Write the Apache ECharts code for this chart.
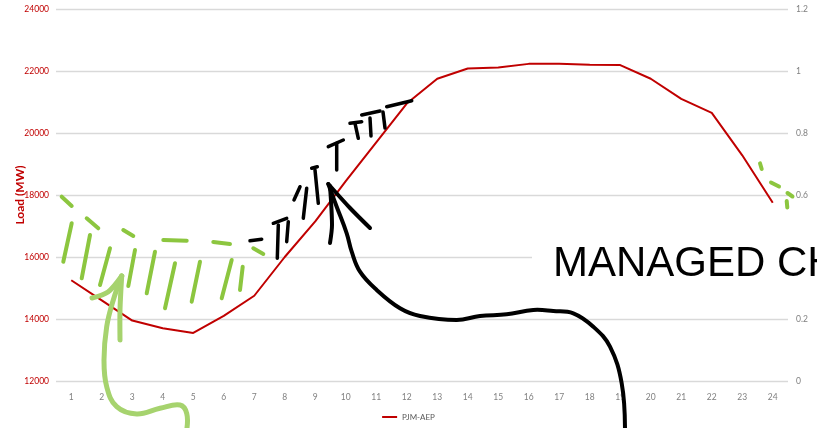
<!DOCTYPE html>
<html><head><meta charset="utf-8">
<script src="https://cdn.jsdelivr.net/npm/echarts@6/dist/echarts.min.js"></script>
<style>html,body{margin:0;padding:0;background:#fff}#c{width:817px;height:428px}</style>
</head><body><div id="c"></div>
<script>
const hours = ['1','2','3','4','5','6','7','8','9','10','11','12','13','14','15','16','17','18','19','20','21','22','23','24'];
const loadPJMAEP = [15250,14600,13950,13700,13550,14100,14750,16000,17150,18450,19700,20950,21750,22080,22110,22230,22230,22200,22190,21750,21100,20650,19280,17750];
const seriesName = 'PJM-AEP';
const annotationText = 'MANAGED CH';

const chart = echarts.init(document.getElementById('c'));
const F = 'Lato, "Liberation Sans", sans-serif';
const red = '#c00000';
const green = '#8cc63f';
const lightGreen = '#a6d36e';

function stroke(points, color, width, smooth) {
  return { type: 'polyline', z: 100, shape: { points: points, smooth: smooth || 0 },
    style: { stroke: color, lineWidth: width, fill: null, lineCap: 'round', lineJoin: 'round' } };
}
const hatch = [
  [[61.7,196.7],[71.7,206]], [[71.7,223.3],[63.3,261.7]], [[86.7,218.3],[98.3,228.3]],
  [[90,235],[81.7,278.3]], [[110,248.3],[100,285]], [[123.3,230],[133.3,236]],
  [[135,250],[128.3,286]], [[155,251.7],[146.7,293.3]], [[163.3,240],[186.7,240.7]],
  [[175,263.3],[165,308.3]], [[200,261.7],[191.7,301.7]], [[213.3,242],[230,244]],
  [[231.7,260],[221.7,298.3]], [[242.7,266.7],[240,290]], [[253.3,248.3],[263.3,254]],
  [[760,163.3],[761.7,169]], [[771,182.5],[779,186.5]], [[787.5,193],[792.5,196.5]], [[786.7,201],[787.3,207.5]]
];
const blackTicks = [
  [[250,240.7],[261.7,239.3]], [[273.3,223.3],[286.7,218.3]], [[277.3,258.3],[278.3,225]], [[286.7,241.7],[288.3,221.7]],
  [[300,186.7],[294,200]], [[306.7,188.3],[303.3,218.3]], [[311.7,168.3],[317.3,166.7]], [[315,170],[318.3,203.3]],
  [[328.3,146.7],[343.3,140]], [[336.7,143.3],[336.7,170]], [[350,123.3],[361.7,121.7]], [[355,123.3],[358.3,138.3]],
  [[361.7,115],[380,111]], [[370,118],[371,136]], [[383,112],[385,128]], [[386.7,106.7],[411.7,100.7]]
];
const graphics = [];
graphics.push({ type: 'rect', z: 90, shape: { x: 532, y: 234, width: 285, height: 64 }, style: { fill: '#fff' } });
graphics.push({ type: 'text', z: 95, style: { x: 553, y: 243, text: annotationText, font: '42px "Liberation Sans", Arial, sans-serif', fill: '#000' } });
hatch.forEach(p => graphics.push(stroke(p, green, 4)));
blackTicks.forEach(p => graphics.push(stroke(p, '#000', 3.5)));
graphics.push(stroke([[625,430],[621.7,383.3],[610,346.7],[593.3,326.7],[573.3,313.3],[553.3,311],[533.3,310],[506.7,314.3],[480,316],[456.7,320],[420,316],[400,308.3],[376.7,290],[360,271.7],[351.7,251.7],[346.7,233.3],[336.7,206.7],[328.3,184]], '#000', 4, 0.4));
graphics.push(stroke([[328.3,184],[350,208],[370,228]], '#000', 4, 0.3));
graphics.push(stroke([[330,186],[332,225],[330,243]], '#000', 4, 0.3));
graphics.push(stroke([[186.7,430],[186.7,413.3],[180,405],[160,408.3],[136.7,414],[116.7,406.7],[106.7,386.7],[104,360],[106.7,326.7],[113.3,300],[121.7,276]], lightGreen, 5, 0.4));
graphics.push(stroke([[92,298],[108,292],[121.7,276]], lightGreen, 5, 0.3));
graphics.push(stroke([[121.7,276],[120,310],[120,340]], lightGreen, 5, 0.3));

chart.setOption({
  animation: false,
  textStyle: { fontFamily: F },
  grid: { left: 56, right: 29, top: 9, bottom: 47, containLabel: false, outerBoundsMode: 'none' },
  legend: { bottom: 2, left: 'center', itemWidth: 15, itemHeight: 2, icon: 'rect',
    textStyle: { color: '#595959', fontSize: 8, fontFamily: F }, data: [seriesName] },
  xAxis: { type: 'category', data: hours, boundaryGap: true,
    axisLine: { show: false }, axisTick: { show: false },
    axisLabel: { color: '#808080', fontSize: 8.5, margin: 12, fontFamily: F } },
  yAxis: [
    { type: 'value', min: 12000, max: 24000, interval: 2000,
      name: 'Load (MW)', nameLocation: 'middle', nameGap: 30, nameRotate: 90, nameMoveOverlap: false,
      nameTextStyle: { color: red, fontSize: 12, fontWeight: 'bold', fontFamily: F },
      axisLabel: { color: red, fontSize: 8.5, margin: 7, fontFamily: F, formatter: v => String(v) },
      axisLine: { show: false }, axisTick: { show: false },
      splitLine: { lineStyle: { color: '#d9d9d9', width: 1.3 } } },
    { type: 'value', min: 0, max: 1.2, interval: 0.2, position: 'right',
      axisLabel: { color: '#808080', fontSize: 8.5, margin: 8, fontFamily: F, formatter: v => String(Math.round(v * 10) / 10) },
      axisLine: { show: false }, axisTick: { show: false }, splitLine: { show: false } }
  ],
  series: [{ name: seriesName, type: 'line', data: loadPJMAEP, yAxisIndex: 0,
    showSymbol: false, symbol: 'none', lineStyle: { color: red, width: 2 }, itemStyle: { color: red } }],
  graphic: graphics
});
</script></body></html>
